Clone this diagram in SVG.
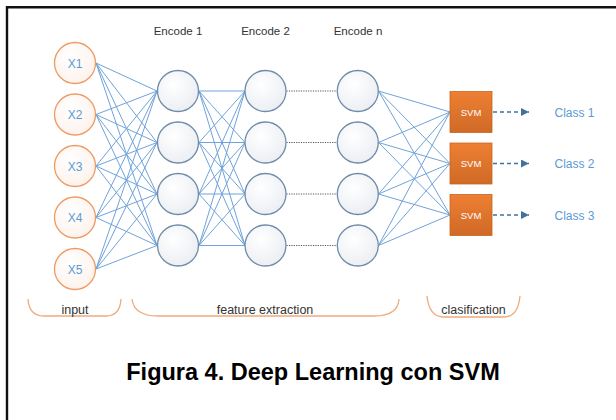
<svg xmlns="http://www.w3.org/2000/svg" width="616" height="420" viewBox="0 0 616 420">
<defs>
<radialGradient id="gIn" cx="0.4" cy="0.35" r="0.75"><stop offset="0" stop-color="#ffffff"/><stop offset="1" stop-color="#fdf1ea"/></radialGradient>
<radialGradient id="gEnc" cx="0.4" cy="0.35" r="0.75"><stop offset="0" stop-color="#ffffff"/><stop offset="1" stop-color="#e9ecf1"/></radialGradient>
<linearGradient id="gSvm" x1="0" y1="0" x2="0" y2="1"><stop offset="0" stop-color="#ee7f33"/><stop offset="1" stop-color="#cf6a26"/></linearGradient>
<marker id="arr" viewBox="0 0 10 10" refX="10" refY="5" markerWidth="8" markerHeight="8" markerUnits="userSpaceOnUse" orient="auto"><path d="M0,0 L10,5 L0,10 z" fill="#41719c"/></marker>
</defs>
<style>
.inC{fill:url(#gIn);stroke:#ee9a63;stroke-width:1.3}
.encC{fill:url(#gEnc);stroke:#6f8cab;stroke-width:1.3}
.svm{fill:url(#gSvm);stroke:#c9651f;stroke-width:0.8}
.lk{stroke:#6fa3da;stroke-width:1;fill:none}
.dot{stroke:#555;stroke-width:1;stroke-dasharray:1.2 1.2;fill:none}
.out{stroke:#41719c;stroke-width:1.3;stroke-dasharray:4 3;fill:none}
.brk{stroke:#f0a97a;stroke-width:1.3;fill:none}
.xl{font-family:"Liberation Sans",Arial,sans-serif;font-size:12px;fill:#5b9bd5;text-anchor:middle}
.lbl{font-family:"Liberation Sans",Arial,sans-serif;font-size:11.5px;fill:#333;text-anchor:middle}
.blbl{font-family:"Liberation Sans",Arial,sans-serif;font-size:12.5px;fill:#333;text-anchor:middle}
.svmt{font-family:"Liberation Sans",Arial,sans-serif;font-size:9.5px;fill:#fff;text-anchor:middle}
.cls{font-family:"Liberation Sans",Arial,sans-serif;font-size:12px;fill:#5b9bd5;text-anchor:middle}
.cap{font-family:"Liberation Sans",Arial,sans-serif;font-size:23.5px;font-weight:bold;fill:#000;text-anchor:middle}
</style>
<rect width="616" height="420" fill="#fff"/>
<path d="M7,420 V7.3 H616" fill="none" stroke="#111" stroke-width="2.4"/>

<g id="connectors">
<path class="lk" d="M96,63 L157,91 M96,63 L157,142.5 M96,63 L157,194 M96,63 L157,245.5
M96,114.5 L157,91 M96,114.5 L157,142.5 M96,114.5 L157,194 M96,114.5 L157,245.5
M96,166 L157,91 M96,166 L157,142.5 M96,166 L157,194 M96,166 L157,245.5
M96,217.5 L157,91 M96,217.5 L157,142.5 M96,217.5 L157,194 M96,217.5 L157,245.5
M96,269 L157,91 M96,269 L157,142.5 M96,269 L157,194 M96,269 L157,245.5"/>
<path class="lk" d="M199,91 L245,91 M199,91 L245,142.5 M199,91 L245,194 M199,91 L245,245.5
M199,142.5 L245,91 M199,142.5 L245,142.5 M199,142.5 L245,194 M199,142.5 L245,245.5
M199,194 L245,91 M199,194 L245,142.5 M199,194 L245,194 M199,194 L245,245.5
M199,245.5 L245,91 M199,245.5 L245,142.5 M199,245.5 L245,194 M199,245.5 L245,245.5"/>
<path class="dot" d="M286.5,91 H337 M286.5,142.5 H337 M286.5,194 H337 M286.5,245.5 H337"/>
<path class="lk" d="M378.5,91 L450,112 M378.5,91 L450,163.5 M378.5,91 L450,215
M378.5,142.5 L450,112 M378.5,142.5 L450,163.5 M378.5,142.5 L450,215
M378.5,194 L450,112 M378.5,194 L450,163.5 M378.5,194 L450,215
M378.5,245.5 L450,112 M378.5,245.5 L450,163.5 M378.5,245.5 L450,215"/>
<path class="out" d="M493,112 H529" marker-end="url(#arr)"/>
<path class="out" d="M493,163.5 H529" marker-end="url(#arr)"/>
<path class="out" d="M493,215 H529" marker-end="url(#arr)"/>
</g>

<g id="x1"><circle class="inC" cx="75" cy="63" r="20.5"/><text class="xl" x="75" y="67.5">X1</text></g>
<g id="x2"><circle class="inC" cx="75" cy="114.5" r="20.5"/><text class="xl" x="75" y="119">X2</text></g>
<g id="x3"><circle class="inC" cx="75" cy="166" r="20.5"/><text class="xl" x="75" y="170.5">X3</text></g>
<g id="x4"><circle class="inC" cx="75" cy="217.5" r="20.5"/><text class="xl" x="75" y="222">X4</text></g>
<g id="x5"><circle class="inC" cx="75" cy="269" r="20.5"/><text class="xl" x="75" y="273.5">X5</text></g>

<g id="enc1">
<text class="lbl" x="178" y="35">Encode 1</text>
<circle class="encC" cx="178" cy="91" r="20.5"/>
<circle class="encC" cx="178" cy="142.5" r="20.5"/>
<circle class="encC" cx="178" cy="194" r="20.5"/>
<circle class="encC" cx="178" cy="245.5" r="20.5"/>
</g>
<g id="enc2">
<text class="lbl" x="265.5" y="35">Encode 2</text>
<circle class="encC" cx="265.5" cy="91" r="20.5"/>
<circle class="encC" cx="265.5" cy="142.5" r="20.5"/>
<circle class="encC" cx="265.5" cy="194" r="20.5"/>
<circle class="encC" cx="265.5" cy="245.5" r="20.5"/>
</g>
<g id="encn">
<text class="lbl" x="358" y="35">Encode n</text>
<circle class="encC" cx="357.8" cy="91" r="20.5"/>
<circle class="encC" cx="357.8" cy="142.5" r="20.5"/>
<circle class="encC" cx="357.8" cy="194" r="20.5"/>
<circle class="encC" cx="357.8" cy="245.5" r="20.5"/>
</g>

<g id="svm1"><rect class="svm" x="450" y="91.5" width="42" height="41"/><text class="svmt" x="471" y="115.5">SVM</text></g>
<g id="svm2"><rect class="svm" x="450" y="143" width="42" height="41"/><text class="svmt" x="471" y="167">SVM</text></g>
<g id="svm3"><rect class="svm" x="450" y="194.5" width="42" height="41"/><text class="svmt" x="471" y="218.5">SVM</text></g>

<g id="class1"><text class="cls" x="574.5" y="116.5">Class 1</text></g>
<g id="class2"><text class="cls" x="574.5" y="168">Class 2</text></g>
<g id="class3"><text class="cls" x="574.5" y="219.5">Class 3</text></g>

<g id="input-label">
<path class="brk" d="M28,299 Q29,316 44,316 H106 Q120,316 121,299"/>
<text class="blbl" x="75" y="313.5">input</text>
</g>
<g id="feature-label">
<path class="brk" d="M132,299 Q134,316 158,316 H374 Q398,316 399,299"/>
<text class="blbl" x="265" y="313.5">feature extraction</text>
</g>
<g id="clasification-label">
<path class="brk" d="M427,296 Q429,317 444,317 H504 Q518,317 520,296"/>
<text class="blbl" x="473.5" y="313.5">clasification</text>
</g>

<text class="cap" x="313" y="380">Figura 4. Deep Learning con SVM</text>
</svg>
